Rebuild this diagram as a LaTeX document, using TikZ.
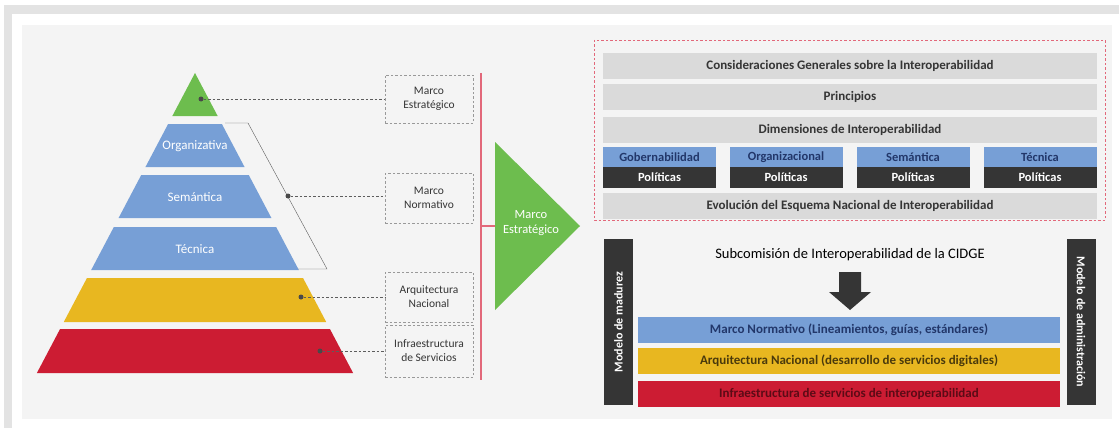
\documentclass[tikz,border=0pt]{standalone}
\usepackage{fontspec}
\setmainfont{Carlito}
\usepackage{tikz}
\usetikzlibrary{positioning,arrows.meta,calc}

\definecolor{pgreen}{HTML}{6DBD4E}
\definecolor{pblue}{HTML}{779FD6}
\definecolor{pyellow}{HTML}{E8B720}
\definecolor{pred}{HTML}{CC1C33}
\definecolor{pdark}{HTML}{353535}
\definecolor{pgray}{HTML}{DADADA}
\definecolor{ppanel}{HTML}{F4F4F4}
\definecolor{pline}{HTML}{E2687A}
\definecolor{pnavy}{HTML}{22376A}
\definecolor{polive}{HTML}{4A3A0C}
\definecolor{pwine}{HTML}{5C0B16}

\newcommand{\fsz}[1]{\fontsize{#1}{#1}\selectfont}

\begin{document}
\begin{tikzpicture}[
  x=1pt, y=-1pt,
  every node/.style={font=\small},
  tierlabel/.style={text=white, font=\fsz{13}},
  dot/.style={circle, fill=pdark!90, minimum size=5pt, inner sep=0pt},
  lead/.style={draw=pdark!80, dashed, dash pattern=on 2.5pt off 2pt, thin},
  frame/.style={draw=gray!80, dashed, dash pattern=on 2.5pt off 2pt, minimum width=88pt, align=center, text=pdark, font=\fontsize{11.5}{14}\selectfont, inner sep=1pt},
  bar/.style={fill=pgray, minimum width=494pt, minimum height=26pt, inner sep=0pt, text=pdark, font=\fsz{13}\bfseries},
  dimtop/.style={fill=pblue, minimum width=113pt, minimum height=20pt, inner sep=0pt, text=pnavy, font=\fsz{12.5}\bfseries},
  dimbot/.style={fill=pdark, minimum width=113pt, minimum height=21pt, inner sep=0pt, text=white, font=\fsz{12.5}\bfseries},
  side/.style={fill=pdark, minimum width=166pt, minimum height=29pt, inner sep=0pt, text=white, font=\fsz{12}\bfseries},
  layer/.style={minimum width=422pt, minimum height=26pt, inner sep=0pt, font=\fsz{13}\bfseries}
]
\useasboundingbox (0,0) rectangle (1119,428);
% Background card
\fill[white] (0,0) rectangle (1119,428);
\fill[gray!22] (4,5) rectangle (1119,14);
\fill[gray!22] (4,5) rectangle (12,428);
\fill[ppanel] (22,25) rectangle (1112,419);

% Pyramid tiers
\foreach \ya/\yb/\col in {73/116/pgreen, 124/167/pblue, 175/218/pblue, 227/270/pblue, 278/322/pyellow, 329/373/pred}
  \fill[\col] ({195-(\ya-73)*0.527},\ya) -- ({195+(\ya-73)*0.527},\ya)
    -- ({195+(\yb-73)*0.527},\yb) -- ({195-(\yb-73)*0.527},\yb) -- cycle;
\node[tierlabel] (org) at (195,146) {Organizativa};
\node[tierlabel] (sem) at (195,197) {Semántica};
\node[tierlabel] (tec) at (195,249) {Técnica};

% Bracket over the blue tiers
\draw[pdark!80, thin] (225,123) -- (248,123) -- (327,269) -- (298,269);

% Dots
\node[dot] (d1) at (201,99) {};
\node[dot] (d2) at (288,196) {};
\node[dot] (d3) at (301,297) {};
\node[dot] (d4) at (320,351) {};

% Dashed frames
\node[frame, minimum height=48pt] (f1) at (429,99) {Marco\\Estratégico};
\node[frame, minimum height=50pt] (f2) at (429,198) {Marco\\Normativo};
\node[frame, minimum height=50pt] (f3) at (429,297) {Arquitectura\\Nacional};
\node[frame, minimum height=52pt] (f4) at (429,351) {Infraestructura\\de Servicios};
\draw[lead] (d1) -- (f1.west |- d1);
\draw[lead] (d2) -- (f2.west |- d2);
\draw[lead] (d3) -- (f3.west |- d3);
\draw[lead] (d4) -- (f4.west |- d4);

% Red rule and green arrow
\coordinate (rtop) at (481,73);
\coordinate (rbot) at (481,380);
\coordinate (rmid) at (481,226);
\draw[pline, line width=1.2pt] (rtop) -- (rbot);
\fill[pgreen] (495,142) -- (580,226) -- (495,310) -- cycle;
\coordinate (gtip) at (495,226);
\draw[pline, line width=1.2pt] (rmid) -- (gtip);
\node[text=white, align=center, font=\fontsize{12.5}{15}\selectfont] (me) at (531,223) {Marco\\Estratégico};

% Scheme box
\draw[pline, dashed, dash pattern=on 2.5pt off 2pt, line width=0.9pt] (594,40) rectangle (1105,220);
\node[bar] (cg) at (850,66) {Consideraciones Generales sobre la Interoperabilidad};
\node[bar] (pr) at (850,97) {Principios};
\node[bar] (di) at (850,129.5) {Dimensiones de Interoperabilidad};
\node[dimtop] (g1) at (659.5,157) {Gobernabilidad};
\node[dimtop] (g2) at (786,157) {Organizacional};
\node[dimtop] (g3) at (913,157) {Semántica};
\node[dimtop] (g4) at (1040,157) {Técnica};
\node[dimbot] (p1) at (659.5,177.5) {Políticas};
\node[dimbot] (p2) at (786,177.5) {Políticas};
\node[dimbot] (p3) at (913,177.5) {Políticas};
\node[dimbot] (p4) at (1040,177.5) {Políticas};
\node[bar] (ev) at (850,205.5) {Evolución del Esquema Nacional de Interoperabilidad};

% Governance block
\node[side, rotate=90] (mm) at (618.5,322) {Modelo de madurez};
\node[side, rotate=-90] (ma) at (1081,322) {Modelo de administración};
\node[font=\fsz{14.5}, text=black] (sub) at (850,255) {Subcomisión de Interoperabilidad de la CIDGE};
\fill[pdark] (839,272) -- (861,272) -- (861,292) -- (871,292) -- (850,310) -- (829,292) -- (839,292) -- cycle;
\node[layer, fill=pblue, text=pnavy] (l1) at (849,330) {Marco Normativo (Lineamientos, guías, estándares)};
\node[layer, fill=pyellow, text=polive] (l2) at (849,361) {Arquitectura Nacional (desarrollo de servicios digitales)};
\node[layer, fill=pred, text=pwine] (l3) at (849,393.5) {Infraestructura de servicios de interoperabilidad};
\end{tikzpicture}
\end{document}
